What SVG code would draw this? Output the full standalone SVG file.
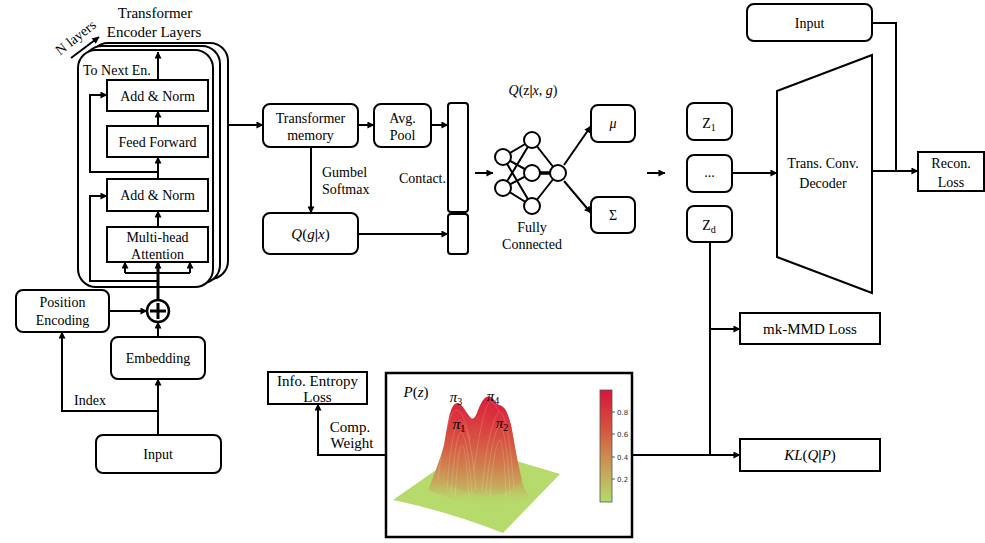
<svg xmlns="http://www.w3.org/2000/svg" width="985" height="543" viewBox="0 0 985 543">
<defs>
  <marker id="arr" viewBox="0 0 8 8" refX="7.5" refY="4" markerWidth="8" markerHeight="7" markerUnits="userSpaceOnUse" orient="auto">
    <path d="M0,0 L8,4 L0,8 z" fill="#000"/>
  </marker>
  <linearGradient id="cbar" x1="0" y1="0" x2="0" y2="1">
    <stop offset="0" stop-color="#d8143c"/>
    <stop offset="0.35" stop-color="#d4543f"/>
    <stop offset="0.6" stop-color="#cc8d4f"/>
    <stop offset="0.8" stop-color="#c1b45e"/>
    <stop offset="1" stop-color="#b3dc6a"/>
  </linearGradient>
  <linearGradient id="mtn" gradientUnits="userSpaceOnUse" x1="0" y1="392" x2="0" y2="505">
    <stop offset="0.035" stop-color="#db1c3c"/>
    <stop offset="0.25" stop-color="#d93a3f"/>
    <stop offset="0.47" stop-color="#d55a42"/>
    <stop offset="0.65" stop-color="#d08250"/>
    <stop offset="0.8" stop-color="#c6a95c"/>
    <stop offset="0.93" stop-color="#b9d36a"/>
    <stop offset="1" stop-color="#b7da6c"/>
  </linearGradient>
  <linearGradient id="mtnFront" gradientUnits="userSpaceOnUse" x1="0" y1="404" x2="0" y2="505">
    <stop offset="0" stop-color="#dc1e3e"/>
    <stop offset="0.3" stop-color="#d84a40"/>
    <stop offset="0.6" stop-color="#d07c4c"/>
    <stop offset="0.8" stop-color="#c6a65a"/>
    <stop offset="1" stop-color="#b7d96c" stop-opacity="0"/>
  </linearGradient>
</defs>
<style>
  .box{fill:#fff;stroke:#000;stroke-width:2}
  .t{font-family:"Liberation Serif","Times New Roman",serif;font-size:14px;text-anchor:middle;fill:#000}
  .l{font-size:15px}
  .i{font-style:italic}
  .ln{fill:none;stroke:#000;stroke-width:2}
  .a{marker-end:url(#arr)}
  .node{fill:#fff;stroke:#000;stroke-width:2}
  .tick{font-family:"DejaVu Sans",sans-serif;font-size:7px;fill:#333}
</style>

<!-- encoder stack -->
<g id="encoder">
  <rect x="90" y="43" width="138" height="236" rx="18" class="box"/>
  <rect x="84" y="46" width="136" height="237" rx="18" class="box"/>
  <rect x="78" y="50" width="135" height="237" rx="18" class="box"/>
  <text class="t l" x="155" y="18">Transformer</text>
  <text class="t l" x="154" y="37">Encoder Layers</text>
  <text class="t" x="76" y="42" transform="rotate(-38 76 38)">N layers</text>
  <line x1="71" y1="58" x2="99" y2="37" class="ln a"/>
  <text class="t" x="83" y="75" style="text-anchor:start">To Next En.</text>
</g>
<g id="addnorm2"><rect x="107" y="80" width="101" height="31" class="box"/><text class="t" x="157.5" y="100.5">Add &amp; Norm</text></g>
<g id="feedforward"><rect x="107" y="126" width="101" height="31" class="box"/><text class="t" x="157.5" y="146.5">Feed Forward</text></g>
<g id="addnorm1"><rect x="107" y="179" width="101" height="32" class="box"/><text class="t" x="157.5" y="200">Add &amp; Norm</text></g>
<g id="attention"><rect x="107" y="227" width="101" height="35" class="box"/><text class="t" x="157.5" y="242">Multi-head</text><text class="t" x="157.5" y="259">Attention</text></g>

<g id="posenc"><rect x="16" y="290" width="93" height="42" rx="7" class="box"/><text class="t" x="62.5" y="307">Position</text><text class="t" x="62.5" y="325">Encoding</text></g>
<g id="embedding"><rect x="111" y="337" width="94" height="42" rx="7" class="box"/><text class="t" x="158" y="363">Embedding</text></g>
<g id="input"><rect x="96" y="435" width="125" height="38" rx="7" class="box"/><text class="t" x="158" y="459">Input</text></g>
<g id="sum">
  <circle cx="158" cy="311" r="11" fill="#fff" stroke="#000" stroke-width="2.5"/>
  <path d="M150,311 H166 M158,303 V319" stroke="#000" stroke-width="3"/>
</g>

<g id="memory"><rect x="263" y="104" width="95" height="43" rx="7" class="box"/><text class="t" x="310.5" y="123">Transformer</text><text class="t" x="310.5" y="140">memory</text></g>
<g id="avgpool"><rect x="374" y="104" width="57" height="43" rx="7" class="box"/><text class="t" x="402.5" y="123">Avg.</text><text class="t" x="402.5" y="140">Pool</text></g>
<g id="qgx"><rect x="263" y="213" width="95" height="41" rx="7" class="box"/><text class="t l" x="310.5" y="239"><tspan class="i">Q</tspan>(<tspan class="i">g</tspan><tspan font-weight="bold">|</tspan><tspan class="i">x</tspan>)</text></g>
<g id="concat">
  <rect x="448" y="103" width="20" height="109" rx="3" class="box"/>
  <rect x="448" y="214" width="20" height="40" rx="3" class="box"/>
  <text class="t" x="446" y="183" style="text-anchor:end">Contact.</text>
</g>

<!-- fully connected network -->
<g id="fc">
  <g class="ln">
    <path d="M503,157 L532,140 M503,157 L532,173 M503,157 L532,206 M503,188 L532,140 M503,188 L532,173 M503,188 L532,206 M532,140 L558,173 M532,206 L558,173"/>
    <path d="M532,173 L558,173" stroke-width="3.5"/>
  </g>
  <circle cx="503" cy="157" r="8" class="node"/>
  <circle cx="503" cy="188" r="8" class="node"/>
  <circle cx="532" cy="140" r="8" class="node"/>
  <circle cx="532" cy="173" r="8" class="node"/>
  <circle cx="532" cy="206" r="8" class="node"/>
  <circle cx="558" cy="173" r="8" class="node"/>
  <text class="t" x="533" y="95"><tspan class="i">Q</tspan>(z<tspan font-weight="bold">|</tspan><tspan class="i">x</tspan>, <tspan class="i">g</tspan>)</text>
  <text class="t" x="532" y="232">Fully</text>
  <text class="t" x="532" y="249">Connected</text>
</g>
<g id="mu"><rect x="591" y="105" width="44" height="37" rx="7" class="box"/><text class="t i" x="613" y="128">μ</text></g>
<g id="sigma"><rect x="591" y="197" width="44" height="36" rx="7" class="box"/><text class="t" x="613" y="220">Σ</text></g>

<g id="z1"><rect x="687" y="103" width="45" height="37" rx="7" class="box"/><text class="t" x="709" y="128">Z<tspan font-size="10" dy="3">1</tspan></text></g>
<g id="zdots"><rect x="687" y="155" width="45" height="37" rx="7" class="box"/><text class="t" x="709.5" y="177">...</text></g>
<g id="zd"><rect x="687" y="206" width="45" height="36" rx="7" class="box"/><text class="t" x="709" y="230">Z<tspan font-size="10" dy="3">d</tspan></text></g>

<g id="input2"><rect x="747" y="4" width="125" height="37" rx="7" class="box"/><text class="t" x="809.5" y="28">Input</text></g>
<g id="decoder"><polygon points="777,91 872,55 872,293 777,257" class="box"/><text class="t" x="823" y="168">Trans. Conv.</text><text class="t" x="823" y="188">Decoder</text></g>
<g id="recon"><rect x="918" y="152" width="66" height="39" class="box"/><text class="t" x="951" y="168">Recon.</text><text class="t" x="951" y="187">Loss</text></g>
<g id="mmd"><rect x="740" y="313" width="140" height="31" class="box"/><text class="t l" x="810" y="334">mk-MMD Loss</text></g>
<g id="kl"><rect x="740" y="439" width="140" height="32" class="box"/><text class="t l" x="810" y="460"><tspan class="i">KL</tspan>(<tspan class="i">Q</tspan><tspan font-weight="bold">|</tspan><tspan class="i">P</tspan>)</text></g>
<g id="entropy"><rect x="268" y="372" width="99" height="32" class="box"/><text class="t l" x="317.5" y="386">Info. Entropy</text><text class="t l" x="317.5" y="402">Loss</text></g>

<!-- mixture prior surface plot -->
<g id="prior">
  <rect x="386" y="373" width="246" height="164" fill="#fff" stroke="#000" stroke-width="2.5"/>
  <path d="M393,500 L469,447 L560,474 L503,533 Q450,512 393,500 Z" fill="#b7da6c"/>
  <path d="M428,490 C434,475 440,460 444,445 C447,428 449,412 453,406 C455,403 458,402 460,404 C464,407 467,414 471,418 C474,420 476,416 478,410 C481,403 484,397 488,396.5 C492,396 494,400 497,404 C499,405 501,405 503,407 C507,410 509,418 511,425 C514,440 516,458 520,475 C523,488 527,494 532,498 C515,508 470,510 428,490 Z" fill="url(#mtn)"/>
  <path d="M445,480 C449,450 452,425 456,419 C459,415 462,414 465,418 C470,425 474,435 478,441 C481,436 484,428 488,420 C492,412 496,406 500,406 C504,406 508,414 511,426 C514,440 517,460 522,480 C510,500 470,502 445,480 Z" fill="url(#mtnFront)"/>
  <g fill="none" stroke="#fff" stroke-opacity="0.16" stroke-width="1">
    <path d="M447,490 C450,445 455,422 460,420 C466,421 472,445 476,490"/>
    <path d="M451,494 C454,455 457,434 461,432 C465,434 469,455 472,494"/>
    <path d="M455,497 C457,465 459,446 462,445 C465,446 467,465 469,497"/>
    <path d="M482,490 C486,445 494,412 500,412 C506,414 511,445 514,490"/>
    <path d="M486,494 C489,455 495,428 500,426 C505,430 508,455 510,494"/>
    <path d="M490,497 C492,465 496,442 500,440 C503,444 505,465 506,497"/>
    <path d="M438,480 C442,445 448,414 456,410 C462,410 467,425 470,440"/>
    <path d="M474,470 C478,440 484,406 490,402 C494,402 497,408 499,412"/>
  </g>
  <text class="t l" x="416" y="397"><tspan class="i">P</tspan>(<tspan class="i">z</tspan>)</text>
  <text class="t l i" x="456" y="402">π<tspan font-size="10" dy="3" font-style="normal">3</tspan></text>
  <text class="t l i" x="459" y="429">π<tspan font-size="10" dy="3" font-style="normal">1</tspan></text>
  <text class="t l i" x="493" y="401">π<tspan font-size="10" dy="3" font-style="normal">4</tspan></text>
  <text class="t l i" x="502" y="428">π<tspan font-size="10" dy="3" font-style="normal">2</tspan></text>
  <rect x="600" y="390" width="12" height="112" fill="url(#cbar)" stroke="#555" stroke-width="0.8"/>
  <path d="M612,412 h3 M612,434 h3 M612,457 h3 M612,479 h3" stroke="#333" stroke-width="0.8"/>
  <text class="tick" x="617" y="414.5">0.8</text>
  <text class="tick" x="617" y="436.5">0.6</text>
  <text class="tick" x="617" y="459.5">0.4</text>
  <text class="tick" x="617" y="481.5">0.2</text>
</g>

<!-- connectors -->
<g id="connectors" class="ln">
  <line x1="158" y1="80" x2="158" y2="52" class="a"/>
  <line x1="158" y1="126" x2="158" y2="111" class="a"/>
  <line x1="158" y1="179" x2="158" y2="157" class="a"/>
  <line x1="158" y1="227" x2="158" y2="211" class="a"/>
  <polyline points="158,172 90,172 90,95 107,95" class="a"/>
  <polyline points="158,281 90,281 90,196 107,196" class="a"/>
  <line x1="158" y1="300" x2="158" y2="262" class="a" stroke-width="3"/>
  <line x1="125" y1="273" x2="190" y2="273"/>
  <line x1="125" y1="273" x2="125" y2="262" class="a"/>
  <line x1="190" y1="273" x2="190" y2="262" class="a"/>
  <line x1="109" y1="311" x2="147" y2="311" class="a"/>
  <line x1="158" y1="337" x2="158" y2="322" class="a"/>
  <line x1="158" y1="435" x2="158" y2="379" class="a"/>
  <polyline points="158,411 62,411 62,332" class="a"/>
  <line x1="228" y1="125" x2="263" y2="125" class="a"/>
  <line x1="358" y1="125" x2="374" y2="125" class="a"/>
  <line x1="431" y1="125" x2="448" y2="125" class="a"/>
  <line x1="311" y1="147" x2="311" y2="213" class="a"/>
  <line x1="358" y1="234" x2="448" y2="234" class="a"/>
  <line x1="475" y1="173" x2="493" y2="173" class="a"/>
  <line x1="564" y1="165" x2="591" y2="126" class="a"/>
  <line x1="564" y1="181" x2="591" y2="213" class="a"/>
  <line x1="647" y1="173" x2="665" y2="173" class="a"/>
  <line x1="732" y1="173" x2="777" y2="173" class="a"/>
  <polyline points="872,23 896,23 896,171"/>
  <line x1="872" y1="171" x2="918" y2="171" class="a"/>
  <line x1="710" y1="242" x2="710" y2="455"/>
  <line x1="710" y1="329" x2="740" y2="329" class="a"/>
  <line x1="632" y1="455" x2="740" y2="455" class="a"/>
  <polyline points="386,455 318,455 318,404" class="a"/>
</g>
<text class="t" x="90" y="405">Index</text>
<text class="t" x="322" y="177" style="text-anchor:start">Gumbel</text>
<text class="t" x="322" y="194" style="text-anchor:start">Softmax</text>
<text class="t l" x="350" y="432">Comp.</text>
<text class="t l" x="352" y="448">Weight</text>
</svg>
